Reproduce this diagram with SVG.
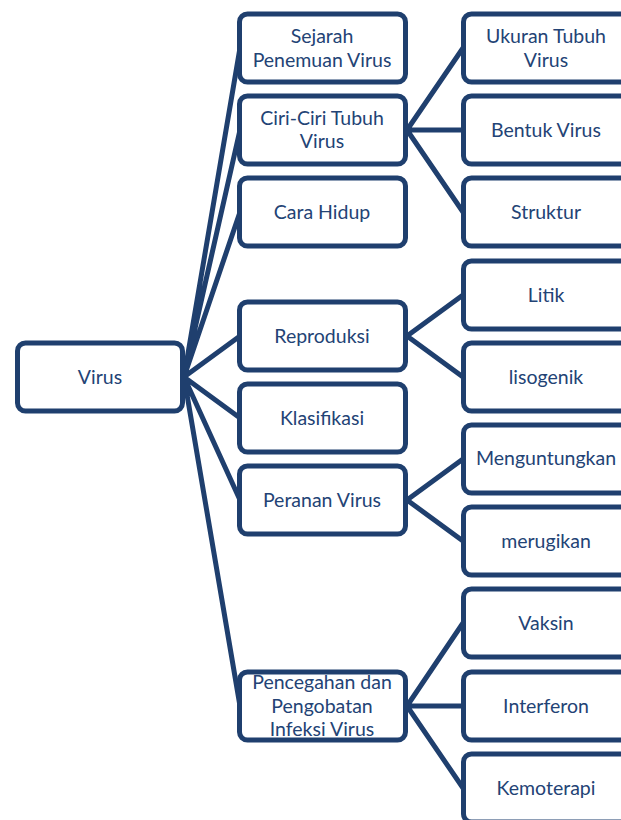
<svg xmlns="http://www.w3.org/2000/svg" width="621" height="820" viewBox="0 0 621 820">
<style>
.box{fill:#fff;stroke:#1f3f6e;stroke-width:5}
.ln{stroke:#1f3f6e;stroke-width:5;fill:none;stroke-linecap:round}
text{font-family:Lato,"Liberation Sans",sans-serif;font-size:19.5px;fill:#234375;text-anchor:middle}
</style>
<rect width="621" height="820" fill="#fff"/>
<g id="connectors">
<path class="ln" d="M184 377L240 48M184 377L240 130M184 377L240 212M184 377L240 336M184 377L240 418M184 377L240 500M184 377L240 706"/>
<path class="ln" d="M407 130L463 48M407 130L463 130M407 130L463 212"/>
<path class="ln" d="M407 336L463 295M407 336L463 377"/>
<path class="ln" d="M407 500L463 459M407 500L463 541"/>
<path class="ln" d="M407 706L463 623M407 706L463 706M407 706L463 788"/>
</g>
<g id="virus"><rect class="box" x="17.5" y="343" width="165" height="68" rx="8"/><text x="100" y="384">Virus</text></g>
<g id="sejarah"><rect class="box" x="239.5" y="14" width="166" height="68" rx="8"/><text x="322" y="43">Sejarah</text><text x="322" y="67">Penemuan Virus</text></g>
<g id="ciri"><rect class="box" x="239.5" y="96" width="166" height="68" rx="8"/><text x="322" y="125">Ciri-Ciri Tubuh</text><text x="322" y="148">Virus</text></g>
<g id="cara"><rect class="box" x="239.5" y="178" width="166" height="68" rx="8"/><text x="322" y="219">Cara Hidup</text></g>
<g id="reproduksi"><rect class="box" x="239.5" y="302" width="166" height="68" rx="8"/><text x="322" y="343">Reproduksi</text></g>
<g id="klasifikasi"><rect class="box" x="239.5" y="384" width="166" height="68" rx="8"/><text x="322" y="425">Klasifikasi</text></g>
<g id="peranan"><rect class="box" x="239.5" y="466" width="166" height="68" rx="8"/><text x="322" y="507">Peranan Virus</text></g>
<g id="pencegahan"><rect class="box" x="239.5" y="672" width="166" height="68" rx="8"/><text x="322" y="689">Pencegahan dan</text><text x="322" y="713">Pengobatan</text><text x="322" y="736">Infeksi Virus</text></g>
<g id="ukuran"><rect class="box" x="463.5" y="14" width="166" height="68" rx="8"/><text x="546" y="43">Ukuran Tubuh</text><text x="546" y="67">Virus</text></g>
<g id="bentuk"><rect class="box" x="463.5" y="96" width="166" height="68" rx="8"/><text x="546" y="137">Bentuk Virus</text></g>
<g id="struktur"><rect class="box" x="463.5" y="178" width="166" height="68" rx="8"/><text x="546" y="219">Struktur</text></g>
<g id="litik"><rect class="box" x="463.5" y="261" width="166" height="68" rx="8"/><text x="546" y="302">Litik</text></g>
<g id="lisogenik"><rect class="box" x="463.5" y="343" width="166" height="68" rx="8"/><text x="546" y="384">lisogenik</text></g>
<g id="menguntungkan"><rect class="box" x="463.5" y="425" width="166" height="68" rx="8"/><text x="546" y="465">Menguntungkan</text></g>
<g id="merugikan"><rect class="box" x="463.5" y="507" width="166" height="68" rx="8"/><text x="546" y="548">merugikan</text></g>
<g id="vaksin"><rect class="box" x="463.5" y="589" width="166" height="68" rx="8"/><text x="546" y="630">Vaksin</text></g>
<g id="interferon"><rect class="box" x="463.5" y="672" width="166" height="68" rx="8"/><text x="546" y="713">Interferon</text></g>
<g id="kemoterapi"><rect class="box" x="463.5" y="754" width="166" height="68" rx="8"/><text x="546" y="795">Kemoterapi</text></g>
</svg>
